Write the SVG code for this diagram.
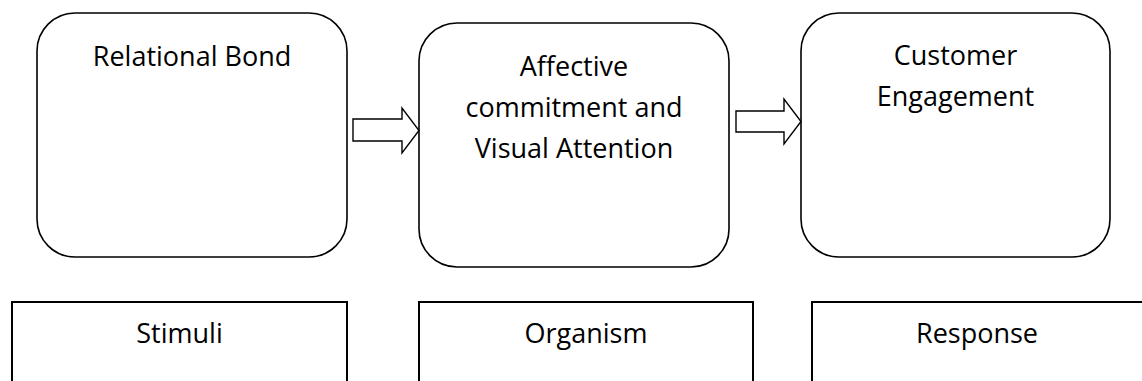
<svg xmlns="http://www.w3.org/2000/svg" width="1142" height="381" viewBox="0 0 1142 381">
<style>
.rb{fill:#fff;stroke:#000;stroke-width:1.6}
.sq{fill:#fff;stroke:#000;stroke-width:2}
.ar{fill:#fff;stroke:#000;stroke-width:1.4;stroke-linejoin:miter}
text{font-family:"Open Sans",Lato,"Liberation Sans",sans-serif;font-size:27px;fill:#000;text-anchor:middle}
</style>
<rect width="1142" height="381" fill="#fff"/>
<g id="relational-bond">
<rect class="rb" x="37" y="13" width="310" height="244" rx="38" ry="38"/>
<text x="192" y="65.5">Relational Bond</text>
</g>
<g id="affective-commitment">
<rect class="rb" x="419" y="23" width="310" height="244" rx="38" ry="38"/>
<text x="574" y="76">Affective</text>
<text x="574" y="117">commitment and</text>
<text x="574" y="158">Visual Attention</text>
</g>
<g id="customer-engagement">
<rect class="rb" x="801" y="13" width="309" height="244" rx="38" ry="38"/>
<text x="955.5" y="65">Customer</text>
<text x="955.5" y="106">Engagement</text>
</g>
<g id="stimuli">
<rect class="sq" x="12" y="302" width="335" height="90"/>
<text x="179.5" y="343">Stimuli</text>
</g>
<g id="organism">
<rect class="sq" x="419" y="302" width="334" height="90"/>
<text x="586" y="343">Organism</text>
</g>
<g id="response">
<rect class="sq" x="812" y="302" width="340" height="90"/>
<text x="977" y="343">Response</text>
</g>
<g id="connectors">
<polygon class="ar" points="353,119 402,119 402,108 419,130.5 402,153 402,141 353,141"/>
<polygon class="ar" points="736,111 784,111 784,99 801,121.5 784,144 784,132 736,132"/>
</g>
</svg>
